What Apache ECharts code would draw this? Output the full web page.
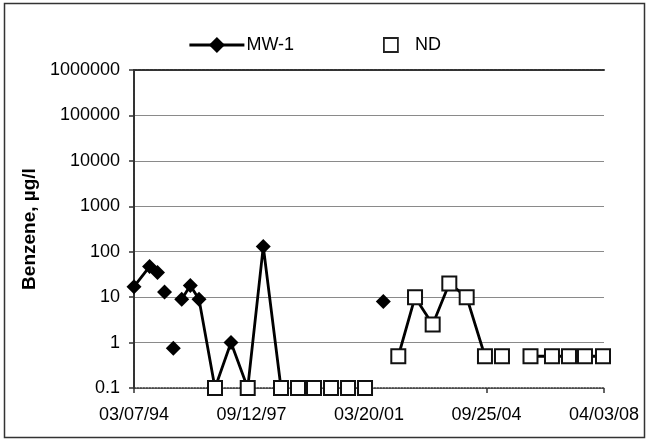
<!DOCTYPE html>
<html>
<head>
<meta charset="utf-8">
<script src="https://cdn.jsdelivr.net/npm/echarts@6/dist/echarts.min.js"></script>
<style>
html,body{margin:0;padding:0;background:#fff;}
#chart{width:648px;height:442px;}
</style>
</head>
<body>
<div id="chart"></div>
<script>
// ---- data ----
const sampleDates = ['1994-03-07','1994-08-24','1994-11-19','1995-02-04','1995-05-11','1995-08-11','1995-11-13','1996-02-16','1996-08-09','1997-01-31','1997-08-02','1998-01-19','1998-08-01','1999-02-03','1999-07-28','2000-01-30','2000-08-03','2001-02-05','2001-08-24','2002-02-04','2002-08-06','2003-02-15','2003-08-16','2004-02-22','2004-09-09','2005-03-14','2006-01-20','2006-09-12','2007-03-17','2007-09-08','2008-03-23'];
const benzene = [17,47,35,13,0.75,9,18,9,0.1,1,0.1,130,0.1,0.1,0.1,0.1,0.1,0.1,8,0.5,10,2.5,20,10,0.5,0.5,0.5,0.5,0.5,0.5,0.5];
const nonDetect = [0,0,0,0,0,0,0,0,1,0,1,0,1,1,1,1,1,1,0,1,1,1,1,1,1,1,1,1,1,1,1];
const joinPrev = [0,1,1,0,0,0,1,1,1,1,1,1,1,0,0,0,0,0,0,0,1,1,1,1,1,0,0,1,1,1,1];
const axisStart = '1994-03-07';
const axisEnd = '2008-04-03';
const xTickLabels = ['03/07/94','09/12/97','03/20/01','09/25/04','04/03/08'];
const yTickLabels = ['0.1','1','10','100','1000','10000','100000','1000000'];

function dayNum(s){const p=s.split('-').map(Number);return Date.UTC(p[0],p[1]-1,p[2])/86400000;}
const base = dayNum(axisStart);
const xMax = dayNum(axisEnd) - base;
const xInt = xMax / (xTickLabels.length - 1);

const lineData = [];
const ndData = [];
sampleDates.forEach(function(d,i){
  const x = dayNum(d) - base;
  if (i > 0 && !joinPrev[i]) lineData.push([x,'-']);
  lineData.push({value:[x,benzene[i]], symbol: nonDetect[i] ? 'none' : 'diamond'});
  if (nonDetect[i]) ndData.push([x,benzene[i]]);
});

const font = 'Liberation Sans, Arial, sans-serif';
const chart = echarts.init(document.getElementById('chart'));
chart.setOption({
  animation:false,
  backgroundColor:'#fff',
  textStyle:{fontFamily:font},
  graphic:[{type:'rect',shape:{x:4.5,y:3.5,width:640,height:434},style:{fill:'none',stroke:'#333',lineWidth:1.5},z:-1}],
  legend:[
    {data:['MW-1'],left:183,top:31,itemWidth:55,itemHeight:20,itemGap:0,
     lineStyle:{width:2.8,color:'#000'},itemStyle:{color:'#000'},
     textStyle:{fontSize:18,color:'#000',fontFamily:font,padding:[0,0,0,-3]}},
    {data:['ND'],left:378,top:31,itemWidth:14,itemHeight:14,
     itemStyle:{color:'#fff',borderColor:'#222',borderWidth:1.8,opacity:1},
     textStyle:{fontSize:18,color:'#000',fontFamily:font,padding:[0,0,0,12]}}
  ],
  grid:{left:134,right:44,top:70,bottom:54,containLabel:false},
  xAxis:[{
    type:'value',min:0,max:xMax,interval:xInt,
    axisLine:{show:true,onZero:false,lineStyle:{color:'#333',width:1.5,type:'dotted'}},
    axisTick:{show:true,length:5,lineStyle:{color:'#333',width:1.5}},
    axisLabel:{fontSize:18,color:'#000',margin:18,fontFamily:font,
      formatter:function(v){return xTickLabels[Math.round(v/xInt)];}},
    splitLine:{show:false}
  },{
    type:'value',position:'top',min:0,max:xMax,interval:xInt,
    axisLine:{show:true,lineStyle:{color:'#333',width:2,type:[3,1]}},
    axisTick:{show:false},axisLabel:{show:false},splitLine:{show:false}
  }],
  yAxis:[{
    type:'log',logBase:10,min:0.1,max:1000000,interval:1,
    name:'Benzene, µg/l',nameLocation:'middle',nameGap:84,
    nameTextStyle:{fontSize:19,fontWeight:'bold',color:'#000',fontFamily:font},
    axisLine:{show:true,lineStyle:{color:'#333',width:2,type:[3,1]}},
    axisTick:{show:true,length:5,lineStyle:{color:'#333',width:1.5}},
    axisLabel:{fontSize:18,color:'#000',margin:14,fontFamily:font,
      formatter:function(v){return yTickLabels[Math.round(Math.log10(v))+1];}},
    splitLine:{show:true,lineStyle:{color:'#8a8a8a',width:1.2}}
  },{
    type:'log',logBase:10,min:0.1,max:1000000,interval:1,position:'right',
    axisLine:{show:true,lineStyle:{color:'#333',width:2,type:[3,1]}},
    axisTick:{show:false},axisLabel:{show:false},splitLine:{show:false}
  }],
  series:[{
    name:'MW-1',type:'line',data:lineData,symbol:'diamond',symbolSize:15,
    connectNulls:false,
    lineStyle:{color:'#000',width:2.8},
    itemStyle:{color:'#000'},
    z:2
  },{
    name:'ND',type:'scatter',data:ndData,symbol:'rect',symbolSize:14,
    itemStyle:{color:'#fff',borderColor:'#111',borderWidth:2,opacity:1},
    z:3
  }]
});
</script>
</body>
</html>
